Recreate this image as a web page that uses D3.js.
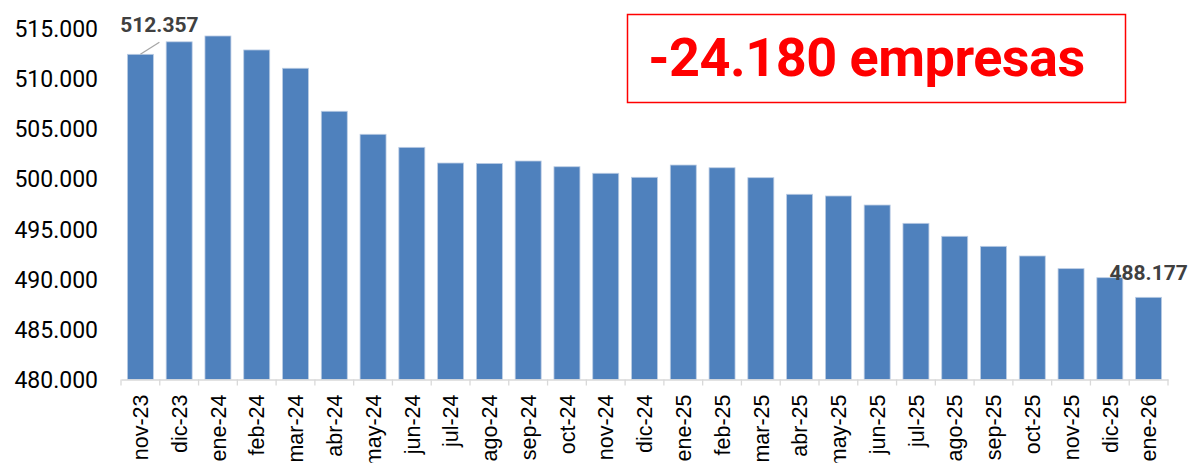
<!DOCTYPE html>
<html>
<head>
<meta charset="utf-8">
<script src="https://cdn.jsdelivr.net/npm/d3@7"></script>
<style>
  body { margin: 0; background: #fff; }
  .x.axis text { font-family: "Liberation Sans", Arial, sans-serif; font-size: 21.5px; fill: #000; }
  .y.axis text { font-family: Roboto, "Liberation Sans", sans-serif; font-size: 23px; fill: #000; }
  .label { font-family: Roboto, "Liberation Sans", sans-serif; font-size: 21px; font-weight: bold; fill: #404040; }
  .title { font-family: Roboto, sans-serif; font-size: 54px; font-weight: bold; fill: #ff0000; }
</style>
</head>
<body>
<svg id="chart"></svg>
<script>
// meses (nov-23 .. ene-26)
var months = ["nov-23", "dic-23", "ene-24", "feb-24", "mar-24", "abr-24", "may-24", "jun-24",
    "jul-24", "ago-24", "sep-24", "oct-24", "nov-24", "dic-24", "ene-25", "feb-25", "mar-25",
    "abr-25", "may-25", "jun-25", "jul-25", "ago-25", "sep-25", "oct-25", "nov-25", "dic-25", "ene-26"];

// numero de empresas
var empresas = [512357, 513600, 514180, 512790, 510970, 506690, 504400, 503100,
    501540, 501500, 501740, 501170, 500520, 500120, 501340, 501070, 500080,
    498430, 498260, 497360, 495540, 494250, 493250, 492290, 491030, 490130, 488177];

var yTicks = [480000, 485000, 490000, 495000, 500000, 505000, 510000, 515000];
var titleText = "-24.180 empresas";

var width = 1193,
    height = 463;

var fmt = function(v) { return d3.format(",")(v).replace(/,/g, "."); };

var svg = d3.select("#chart")
    .attr("width", width)
    .attr("height", height);

var x = d3.scaleBand()
    .domain(months)
    .range([121, 1168])
    .paddingInner(0.33)
    .paddingOuter(0.165);

var y = d3.scaleLinear()
    .domain([480000, 515000])
    .range([379.5, 27.75]);

// y axis, labels only
var yAxis = svg.append("g")
    .attr("class", "y axis")
    .attr("transform", "translate(98,0)")
    .call(d3.axisLeft(y).tickValues(yTicks).tickFormat(fmt).tickSize(0).tickPadding(0));
yAxis.select(".domain").remove();
yAxis.selectAll("text").attr("dy", "0.36em");

// bars
svg.append("g").selectAll("rect")
    .data(empresas)
    .enter().append("rect")
    .attr("x", function(d, i) { return x(months[i]); })
    .attr("y", function(d) { return y(d); })
    .attr("width", x.bandwidth())
    .attr("height", function(d) { return y(480000) - y(d); })
    .attr("fill", "#4f81bd")
    .attr("stroke", "#bccde4")
    .attr("stroke-width", 0.8);

// x axis
var xAxis = svg.append("g")
    .attr("class", "x axis")
    .attr("transform", "translate(0," + y(480000) + ")")
    .call(d3.axisBottom(x).tickSize(0).tickSizeOuter(0));
xAxis.select(".domain").attr("stroke", "#d9d9d9").attr("stroke-width", 1.3);
xAxis.selectAll(".tick text")
    .attr("text-anchor", "end")
    .attr("transform", "rotate(-90)")
    .attr("x", -15)
    .attr("y", 0)
    .attr("dy", "0.36em");

// separadores entre categorias
xAxis.selectAll(".sep")
    .data(d3.range(months.length + 1))
    .enter().append("line")
    .attr("class", "sep")
    .attr("x1", function(i) { return x.range()[0] + i * x.step(); })
    .attr("x2", function(i) { return x.range()[0] + i * x.step(); })
    .attr("y1", 0)
    .attr("y2", 6)
    .attr("stroke", "#d9d9d9")
    .attr("stroke-width", 1.3);

// etiquetas primera y ultima
var first = 0, last = empresas.length - 1;
var cx0 = x(months[first]) + x.bandwidth() / 2;
svg.append("line")
    .attr("x1", cx0)
    .attr("y1", y(empresas[first]))
    .attr("x2", cx0 + 19)
    .attr("y2", y(empresas[first]) - 12)
    .attr("stroke", "#a6a6a6")
    .attr("stroke-width", 1.3);
svg.append("text")
    .attr("class", "label")
    .attr("x", cx0 + 19)
    .attr("y", y(empresas[first]) - 22)
    .attr("text-anchor", "middle")
    .text(fmt(empresas[first]));

svg.append("text")
    .attr("class", "label")
    .attr("x", x(months[last]) + x.bandwidth() / 2)
    .attr("y", y(empresas[last]) - 17)
    .attr("text-anchor", "middle")
    .text(fmt(empresas[last]));

// caja con la diferencia
svg.append("rect")
    .attr("x", 627.5)
    .attr("y", 14.5)
    .attr("width", 498)
    .attr("height", 88)
    .attr("fill", "none")
    .attr("stroke", "#ff0000")
    .attr("stroke-width", 1.5);
svg.append("text")
    .attr("class", "title")
    .attr("x", 866.5)
    .attr("y", 76)
    .attr("text-anchor", "middle")
    .attr("letter-spacing", "-0.5px")
    .text(titleText);
</script>
</body>
</html>
